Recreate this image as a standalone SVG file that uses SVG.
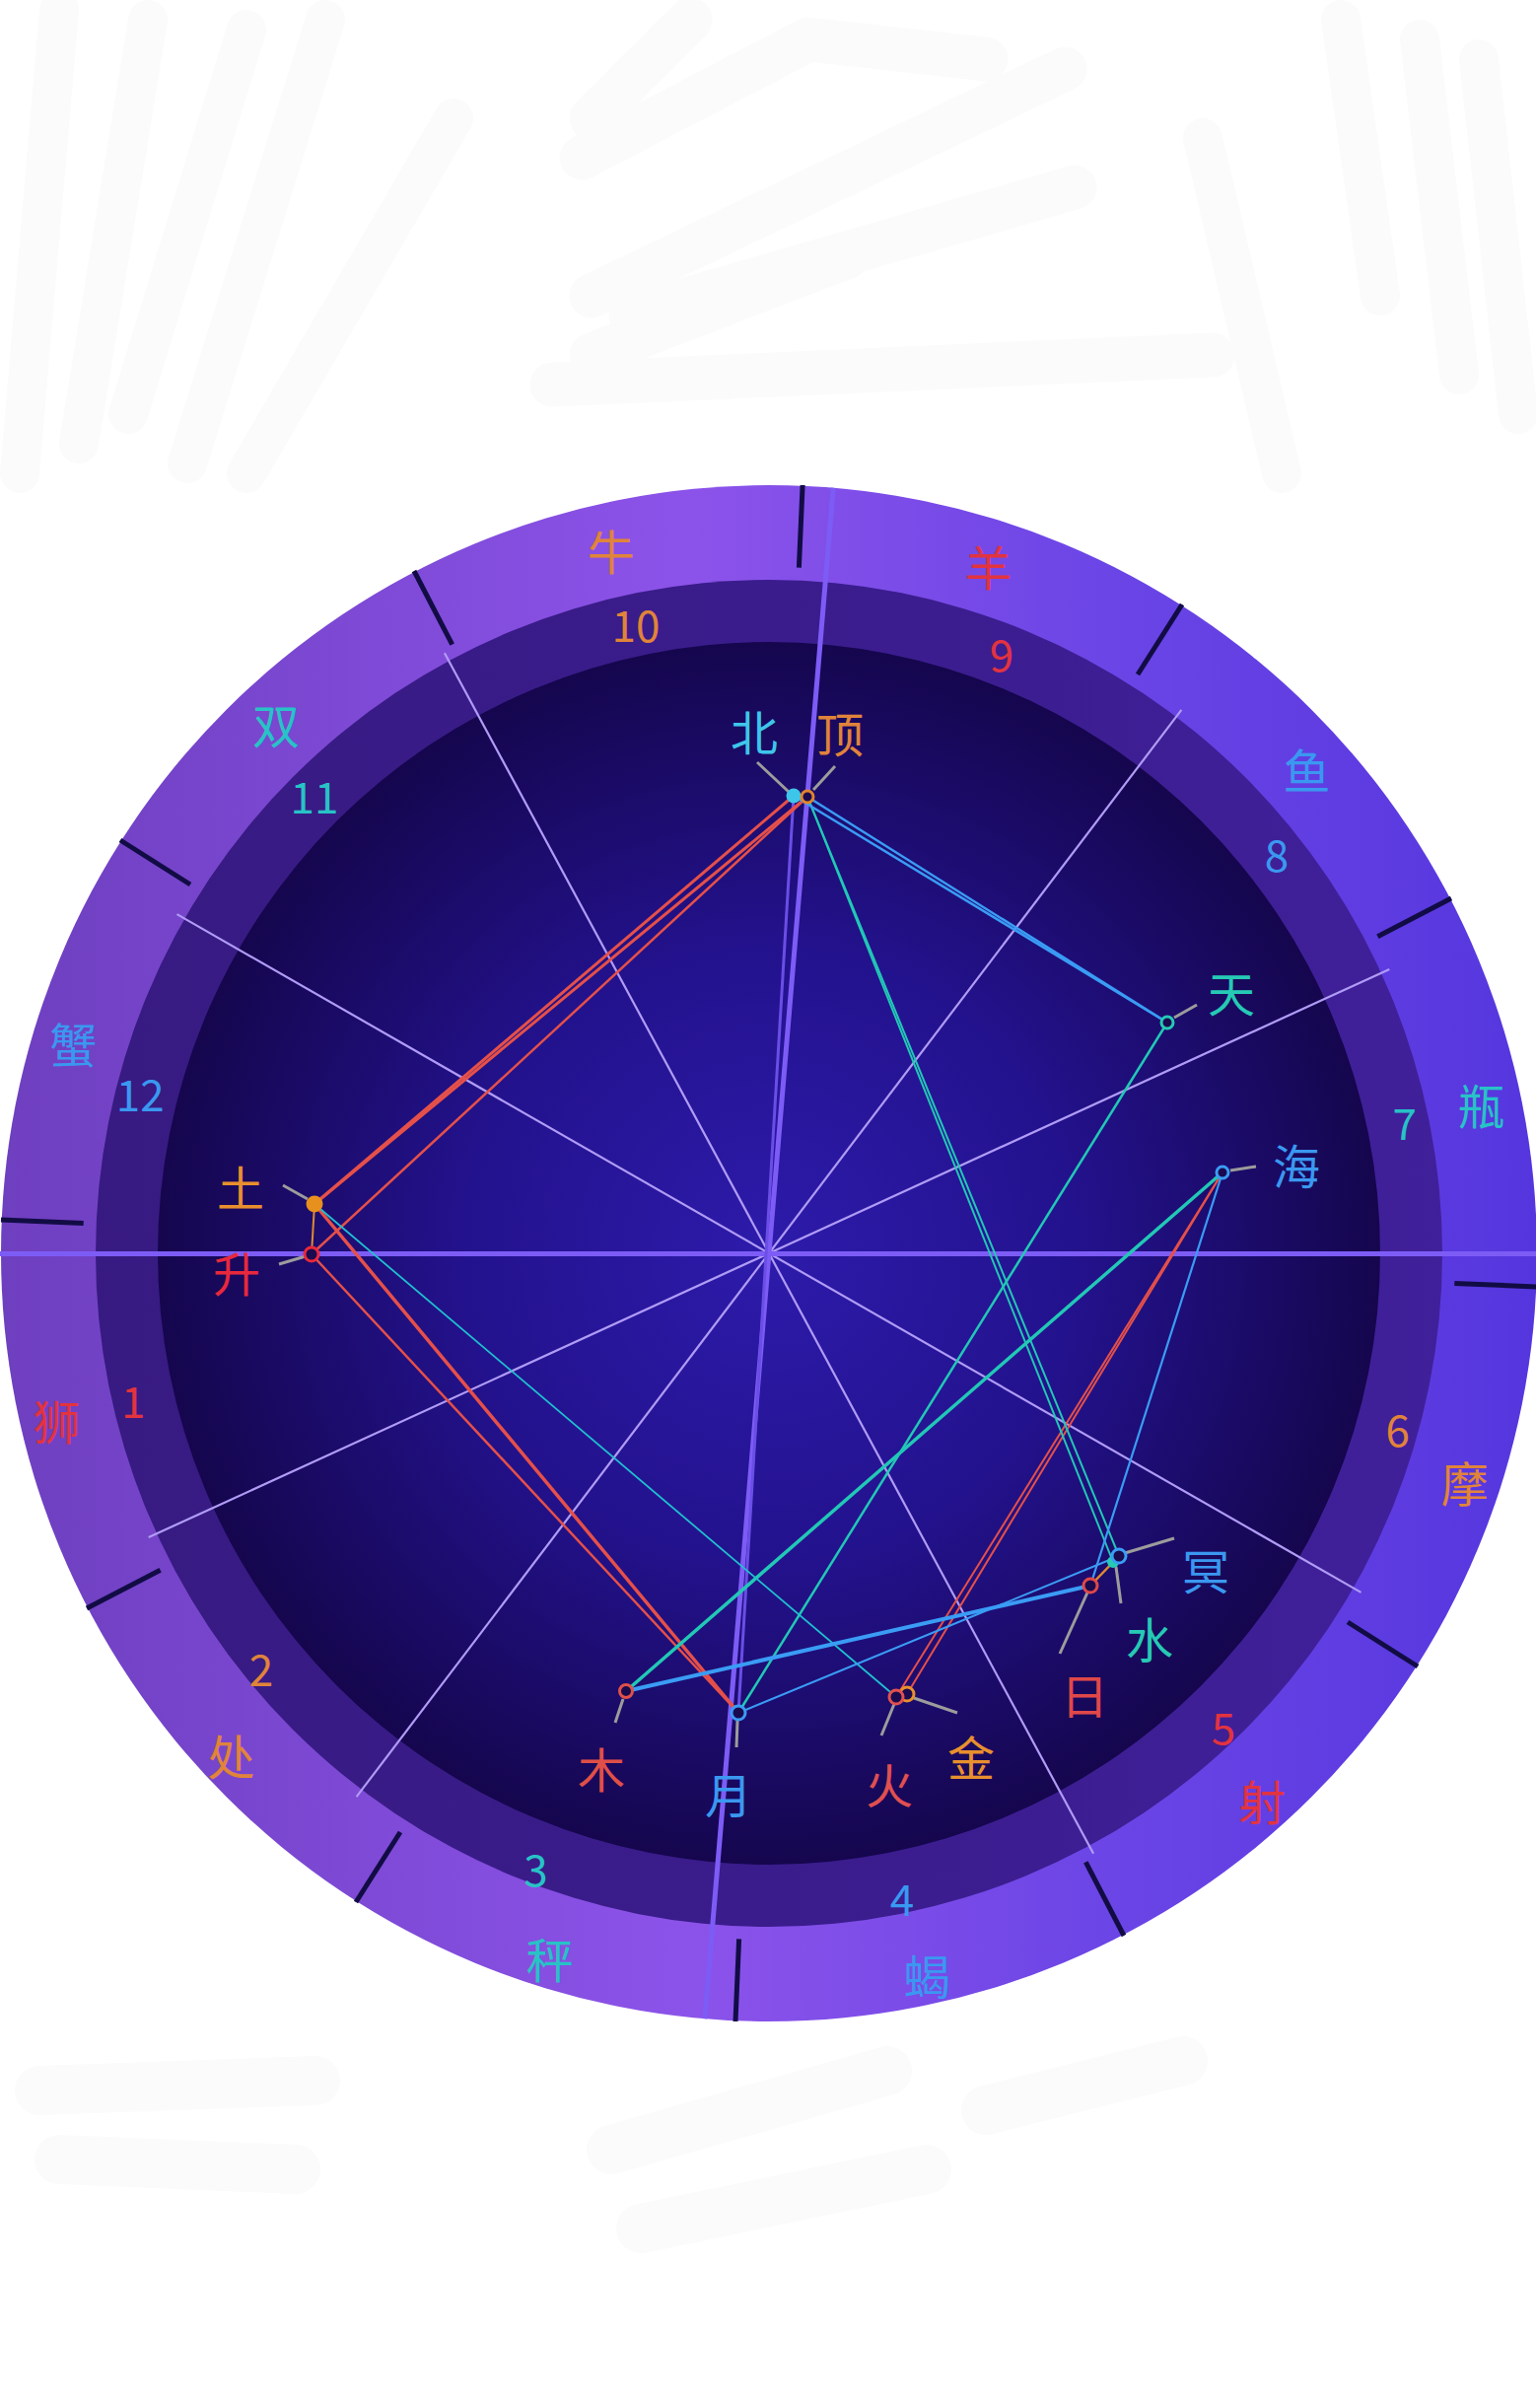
<svg xmlns="http://www.w3.org/2000/svg" width="1558" height="2442" viewBox="0 0 1558 2442">
<defs>
<linearGradient id="ringGrad" x1="0" y1="0" x2="1558" y2="0" gradientUnits="userSpaceOnUse">
<stop offset="0" stop-color="#6e3fbf"/>
<stop offset="0.45" stop-color="#8c53ea"/>
<stop offset="0.72" stop-color="#6b45e6"/>
<stop offset="1" stop-color="#5536de"/>
</linearGradient>
<linearGradient id="houseGrad" x1="0" y1="0" x2="1558" y2="0" gradientUnits="userSpaceOnUse">
<stop offset="0" stop-color="#371a80"/>
<stop offset="0.5" stop-color="#3a1c8c"/>
<stop offset="1" stop-color="#41219c"/>
</linearGradient>
<radialGradient id="diskGrad" cx="780" cy="1271" r="620" gradientUnits="userSpaceOnUse">
<stop offset="0" stop-color="#2d1bab"/>
<stop offset="0.5" stop-color="#23128d"/>
<stop offset="1" stop-color="#15064e"/>
</radialGradient>
<style>
.bg{fill:none;stroke:#fbfbfb;stroke-linecap:round;stroke-linejoin:round}
.tick{stroke:#120c45;stroke-width:5}
.house{stroke:#b09cf6;stroke-width:2.2}
.axis{stroke:#7d5cf6;stroke-width:5}
.red{stroke:#e5504a}
.teal{stroke:#22c8b6}
.cyan{stroke:#20c0d0}
.blue{stroke:#3a9cf5}
.orange{stroke:#e08a30}
.purple{stroke:#6a4ee6}
.lead{stroke:#9c9c9c;stroke-width:3}
.ring{fill:#1a0a50;stroke-width:3}
text{font-family:"Noto Sans CJK SC","Noto Sans",sans-serif;text-anchor:middle;dominant-baseline:central}
.sign{font-size:48px}
.num{font-size:44px}
.pl{font-size:48px}
.cR{fill:#e2333f}
.cO{fill:#e0843a}
.cT{fill:#27c3c6}
.cB{fill:#3a98f0}
</style>
</defs>
<rect width="1558" height="2442" fill="#ffffff"/>
<g id="background-scribbles">
<path class="bg" stroke-width="40" d="M20 480 L60 10 M80 450 L150 20 M130 420 L250 30 M190 470 L330 20 M250 480 L460 120"/>
<path class="bg" stroke-width="45" d="M600 120 L700 20 M590 160 L820 40 L1000 60 M600 300 L1080 70 M640 320 L1090 190 M560 390 L1230 360 M600 360 L860 260"/>
<path class="bg" stroke-width="40" d="M1360 20 L1400 300 M1440 40 L1480 380 M1500 60 L1540 420 M1220 140 L1300 480"/>
<path class="bg" stroke-width="50" d="M40 2120 L320 2110 M60 2190 L300 2200 M620 2180 L900 2100 M650 2260 L940 2200 M1000 2140 L1200 2090"/>
</g>
<g id="wheel">
<circle cx="780" cy="1271" r="779" fill="url(#ringGrad)"/>
<circle cx="780" cy="1271" r="683" fill="url(#houseGrad)"/>
<circle cx="780" cy="1271" r="620" fill="url(#diskGrad)"/>
</g>
<g id="sign-ticks">
<line class="tick" x1="810.4" y1="575.7" x2="814.1" y2="492"/>
<line class="tick" x1="1154" y1="684" x2="1199" y2="613"/>
<line class="tick" x1="1397.4" y1="949.7" x2="1472" y2="911"/>
<line class="tick" x1="1475.3" y1="1301.4" x2="1559" y2="1305"/>
<line class="tick" x1="1367" y1="1645" x2="1438" y2="1690"/>
<line class="tick" x1="1101.3" y1="1888.3" x2="1140" y2="1963"/>
<line class="tick" x1="749.6" y1="1966.3" x2="746" y2="2050"/>
<line class="tick" x1="406" y1="1858" x2="361" y2="1929"/>
<line class="tick" x1="162.6" y1="1592.3" x2="88" y2="1631"/>
<line class="tick" x1="84.7" y1="1240.6" x2="1" y2="1237"/>
<line class="tick" x1="193" y1="897" x2="122" y2="852"/>
<line class="tick" x1="458.7" y1="653.7" x2="420" y2="579"/>
</g>
<g id="house-cusps">
<line class="house" x1="450.9" y1="662.3" x2="1109.1" y2="1879.7"/>
<line class="house" x1="1198.4" y1="719.8" x2="361.6" y2="1822.2"/>
<line class="house" x1="1409.3" y1="982.9" x2="150.7" y2="1559.1"/>
<line class="house" x1="179.5" y1="927.1" x2="1380.5" y2="1614.9"/>
<line class="axis" x1="0" y1="1271.5" x2="1558" y2="1271.5" stroke-width="6"/>
<line class="axis" x1="845.2" y1="494.7" x2="714.8" y2="2047.3"/>
</g>
<g id="connectors" fill="none">
<line class="purple" stroke-width="3" x1="805" y1="807" x2="749" y2="1737"/>
<line class="red" stroke-width="3" x1="805" y1="807" x2="319" y2="1221"/>
<line class="red" stroke-width="3" x1="819" y1="808" x2="319" y2="1221"/>
<line class="red" stroke-width="2.5" x1="819" y1="808" x2="316" y2="1272"/>
<line class="red" stroke-width="3.5" x1="319" y1="1221" x2="749" y2="1737"/>
<line class="red" stroke-width="2.5" x1="316" y1="1272" x2="749" y2="1737"/>
<line class="red" stroke-width="2" x1="1240" y1="1189" x2="909" y2="1721"/>
<line class="red" stroke-width="2" x1="1240" y1="1189" x2="920" y2="1718"/>
<line class="teal" stroke-width="2" x1="819" y1="808" x2="1135" y2="1578"/>
<line class="teal" stroke-width="2" x1="819" y1="808" x2="1129" y2="1584"/>
<line class="teal" stroke-width="2.5" x1="1184" y1="1037" x2="749" y2="1737"/>
<line class="teal" stroke-width="3.5" x1="1240" y1="1189" x2="635" y2="1715"/>
<line class="cyan" stroke-width="1.8" x1="319" y1="1221" x2="909" y2="1721"/>
<line class="blue" stroke-width="2.5" x1="805" y1="807" x2="1184" y2="1037"/>
<line class="blue" stroke-width="2.5" x1="819" y1="808" x2="1184" y2="1037"/>
<line class="blue" stroke-width="2.2" x1="1240" y1="1189" x2="1106" y2="1608"/>
<line class="blue" stroke-width="4" x1="635" y1="1715" x2="1106" y2="1608"/>
<line class="blue" stroke-width="2" x1="749" y1="1737" x2="1135" y2="1578"/>
<line class="orange" stroke-width="2" x1="319" y1="1221" x2="316" y2="1272"/>
<line class="orange" stroke-width="2.5" x1="1106" y1="1608" x2="1135" y2="1578"/>
</g>
<g id="leaders">
<line class="lead" x1="800" y1="803" x2="768" y2="773"/>
<line class="lead" x1="825" y1="801" x2="847" y2="777"/>
<line class="lead" x1="1191" y1="1032" x2="1214" y2="1019"/>
<line class="lead" x1="1248" y1="1187" x2="1274" y2="1183"/>
<line class="lead" x1="1141" y1="1575" x2="1191" y2="1560"/>
<line class="lead" x1="1132" y1="1589" x2="1137" y2="1626"/>
<line class="lead" x1="1103" y1="1615" x2="1075" y2="1677"/>
<line class="lead" x1="927" y1="1722" x2="971" y2="1737"/>
<line class="lead" x1="907" y1="1728" x2="894" y2="1760"/>
<line class="lead" x1="748" y1="1745" x2="747" y2="1772"/>
<line class="lead" x1="632" y1="1723" x2="624" y2="1747"/>
<line class="lead" x1="312" y1="1216" x2="287" y2="1202"/>
<line class="lead" x1="310" y1="1274" x2="283" y2="1282"/>
</g>
<g id="node-north"><circle cx="805" cy="807" r="7.5" fill="#3ec6ea"/><text class="pl" x="765" y="740" fill="#3ec6ea">北</text></g>
<g id="node-mc"><circle class="ring" cx="819" cy="808" r="6" stroke="#e0842e"/><text class="pl cO" x="852" y="742">顶</text></g>
<g id="node-uranus"><circle class="ring" cx="1184" cy="1037" r="6" stroke="#26c9b5"/><text class="pl" x="1249" y="1005" fill="#26c9b5">天</text></g>
<g id="node-neptune"><circle class="ring" cx="1240" cy="1189" r="6" stroke="#3a9cf5"/><text class="pl cB" x="1315" y="1180">海</text></g>
<g id="node-mercury"><circle cx="1129" cy="1584" r="6" fill="#26c9b5"/><text class="pl" x="1166" y="1660" fill="#26c9b5">水</text></g>
<g id="node-pluto"><circle class="ring" cx="1135" cy="1578" r="7" stroke="#3a9cf5" stroke-width="3.5"/><text class="pl cB" x="1223" y="1591">冥</text></g>
<g id="node-sun"><circle class="ring" cx="1106" cy="1608" r="7" stroke="#e04848"/><text class="pl" x="1100" y="1717" fill="#e04848">日</text></g>
<g id="node-venus"><circle class="ring" cx="920" cy="1718" r="7" stroke="#e8902e"/><text class="pl" x="985" y="1780" fill="#e8902e">金</text></g>
<g id="node-mars"><circle class="ring" cx="909" cy="1721" r="7" stroke="#e05050"/><text class="pl" x="902" y="1808" fill="#e05050">火</text></g>
<g id="node-moon"><circle class="ring" cx="749" cy="1737" r="7" stroke="#3a9cf5"/><text class="pl cB" x="739" y="1818">月</text></g>
<g id="node-jupiter"><circle class="ring" cx="635" cy="1715" r="6.5" stroke="#e05048"/><text class="pl" x="610" y="1792" fill="#e05048">木</text></g>
<g id="node-saturn"><circle cx="319" cy="1221" r="8.5" fill="#e8901e"/><text class="pl" x="244" y="1202" fill="#e8902e">土</text></g>
<g id="node-asc"><circle class="ring" cx="316" cy="1272" r="7" stroke="#e8283c"/><text class="pl" x="240" y="1289" fill="#e8283c">升</text></g>
<g id="signs">
<text class="sign cR" x="1002.5" y="573.3">羊</text>
<text class="sign cB" x="1325.6" y="779.1">鱼</text>
<text class="sign cT" x="1502.5" y="1118.8">瓶</text>
<text class="sign cO" x="1485.7" y="1501.5">摩</text>
<text class="sign cR" x="1279.9" y="1824.6">射</text>
<text class="sign cB" x="940.2" y="2001.5">蝎</text>
<text class="sign cT" x="557.5" y="1984.7">秤</text>
<text class="sign cO" x="234.4" y="1778.9">处</text>
<text class="sign cR" x="57.5" y="1439.2">狮</text>
<text class="sign cB" x="74.3" y="1056.5">蟹</text>
<text class="sign cT" x="280.1" y="733.4">双</text>
<text class="sign cO" x="619.8" y="556.5">牛</text>
</g>
<g id="house-numbers">
<text class="num cR" x="135.2" y="1418.6">1</text>
<text class="num cO" x="264.9" y="1690.6">2</text>
<text class="num cT" x="543.5" y="1894.2">3</text>
<text class="num cB" x="915" y="1924">4</text>
<text class="num cR" x="1241" y="1750.4">5</text>
<text class="num cO" x="1417.8" y="1447.7">6</text>
<text class="num cT" x="1424.8" y="1137.4">7</text>
<text class="num cB" x="1295" y="865.4">8</text>
<text class="num cR" x="1016" y="661.6">9</text>
<text class="num cO" x="645" y="632">10</text>
<text class="num cT" x="319" y="805.6">11</text>
<text class="num cB" x="142.2" y="1108.3">12</text>
</g>
</svg>
